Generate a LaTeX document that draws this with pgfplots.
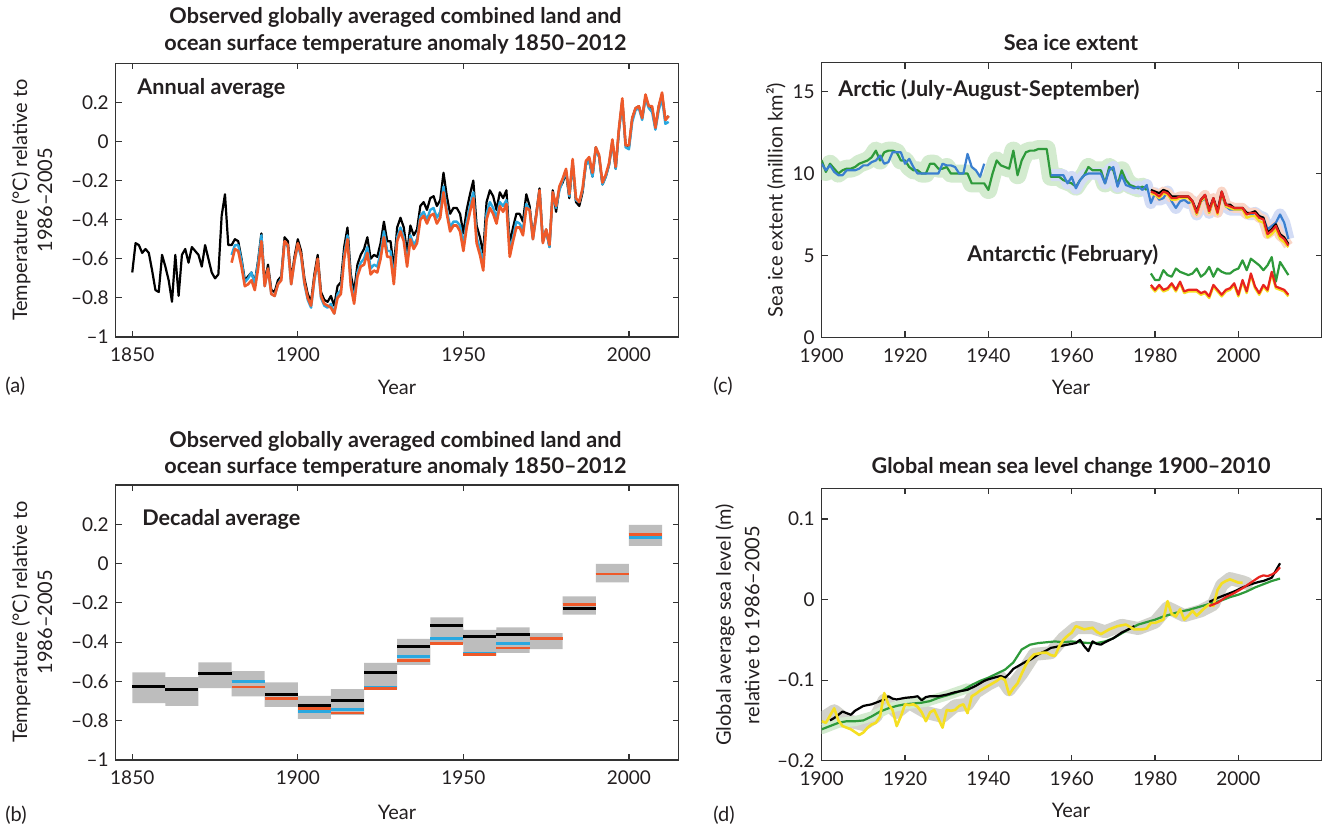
\documentclass[border=0pt]{standalone}
\usepackage{pgfplots}
\pgfplotsset{compat=1.18}
\usepackage{pgfplotstable}
\usepackage{fontspec}
\setmainfont{Lato}

\definecolor{txt}{HTML}{231F20}
\definecolor{orng}{HTML}{EE5A2A}
\definecolor{cyanb}{HTML}{29A8E0}
\definecolor{boxg}{HTML}{BDBDBD}
\definecolor{grn}{HTML}{2E9A3A}
\definecolor{grnband}{HTML}{D3EBCF}
\definecolor{bluel}{HTML}{3A7FD0}
\definecolor{blueband}{HTML}{D3DCF5}
\definecolor{redl}{HTML}{E8231E}
\definecolor{yell}{HTML}{F5DF22}
\definecolor{orband}{HTML}{FAD5C6}
\definecolor{greyband}{HTML}{D2D2CC}

\pgfplotsset{
  panel/.style={
    scale only axis,
    axis line style={black!80, line width=0.6pt},
    every tick/.style={black!80, line width=0.6pt},
    major tick length=3pt,
    tick label style={font=\fontsize{9.5}{11}\selectfont, text=txt},
    xticklabel style={yshift=-2pt},
    clip=true,
  }
}

% ---------- (a) annual temperature anomaly ----------
\pgfplotstableread{
year black blue orange
1850 -0.67 nan nan
1851 -0.52 nan nan
1852 -0.53 nan nan
1853 -0.57 nan nan
1854 -0.55 nan nan
1855 -0.57 nan nan
1856 -0.66 nan nan
1857 -0.76 nan nan
1858 -0.77 nan nan
1859 -0.58 nan nan
1860 -0.64 nan nan
1861 -0.71 nan nan
1862 -0.82 nan nan
1863 -0.58 nan nan
1864 -0.79 nan nan
1865 -0.58 nan nan
1866 -0.55 nan nan
1867 -0.62 nan nan
1868 -0.54 nan nan
1869 -0.56 nan nan
1870 -0.58 nan nan
1871 -0.64 nan nan
1872 -0.53 nan nan
1873 -0.60 nan nan
1874 -0.67 nan nan
1875 -0.70 nan nan
1876 -0.68 nan nan
1877 -0.38 nan nan
1878 -0.27 nan nan
1879 -0.53 nan nan
1880 -0.53 -0.58 -0.62
1881 -0.50 -0.53 -0.55
1882 -0.51 -0.53 -0.56
1883 -0.60 -0.61 -0.64
1884 -0.71 -0.72 -0.74
1885 -0.69 -0.70 -0.73
1886 -0.67 -0.67 -0.71
1887 -0.72 -0.73 -0.76
1888 -0.61 -0.62 -0.65
1889 -0.47 -0.48 -0.51
1890 -0.72 -0.74 -0.74
1891 -0.63 -0.65 -0.65
1892 -0.76 -0.78 -0.78
1893 -0.77 -0.79 -0.79
1894 -0.71 -0.73 -0.73
1895 -0.69 -0.70 -0.71
1896 -0.49 -0.51 -0.51
1897 -0.51 -0.54 -0.53
1898 -0.71 -0.73 -0.73
1899 -0.59 -0.61 -0.61
1900 -0.50 -0.53 -0.52
1901 -0.56 -0.59 -0.58
1902 -0.70 -0.73 -0.72
1903 -0.78 -0.81 -0.80
1904 -0.82 -0.85 -0.84
1905 -0.68 -0.71 -0.70
1906 -0.58 -0.61 -0.60
1907 -0.77 -0.80 -0.79
1908 -0.81 -0.84 -0.83
1909 -0.82 -0.85 -0.84
1910 -0.79 -0.83 -0.85
1911 -0.84 -0.88 -0.88
1912 -0.74 -0.78 -0.80
1913 -0.72 -0.76 -0.78
1914 -0.54 -0.58 -0.60
1915 -0.44 -0.48 -0.50
1916 -0.68 -0.72 -0.74
1917 -0.77 -0.81 -0.83
1918 -0.63 -0.67 -0.69
1919 -0.58 -0.62 -0.64
1920 -0.55 -0.60 -0.63
1921 -0.49 -0.54 -0.57
1922 -0.60 -0.65 -0.68
1923 -0.58 -0.63 -0.66
1924 -0.59 -0.64 -0.67
1925 -0.52 -0.57 -0.60
1926 -0.41 -0.46 -0.49
1927 -0.51 -0.56 -0.59
1928 -0.51 -0.56 -0.59
1929 -0.65 -0.70 -0.73
1930 -0.44 -0.49 -0.51
1931 -0.39 -0.44 -0.46
1932 -0.44 -0.49 -0.51
1933 -0.57 -0.62 -0.64
1934 -0.43 -0.48 -0.50
1935 -0.48 -0.53 -0.55
1936 -0.45 -0.50 -0.52
1937 -0.33 -0.38 -0.40
1938 -0.31 -0.36 -0.38
1939 -0.35 -0.40 -0.42
1940 -0.29 -0.35 -0.38
1941 -0.28 -0.34 -0.37
1942 -0.33 -0.39 -0.42
1943 -0.30 -0.36 -0.39
1944 -0.16 -0.23 -0.26
1945 -0.28 -0.35 -0.37
1946 -0.37 -0.44 -0.46
1947 -0.34 -0.41 -0.43
1948 -0.34 -0.41 -0.43
1949 -0.37 -0.43 -0.46
1950 -0.47 -0.53 -0.56
1951 -0.35 -0.41 -0.44
1952 -0.27 -0.33 -0.36
1953 -0.20 -0.26 -0.29
1954 -0.43 -0.49 -0.52
1955 -0.49 -0.55 -0.58
1956 -0.57 -0.63 -0.66
1957 -0.31 -0.37 -0.40
1958 -0.25 -0.31 -0.34
1959 -0.28 -0.34 -0.37
1960 -0.35 -0.39 -0.42
1961 -0.26 -0.31 -0.33
1962 -0.29 -0.33 -0.36
1963 -0.25 -0.30 -0.32
1964 -0.52 -0.56 -0.59
1965 -0.44 -0.49 -0.51
1966 -0.37 -0.41 -0.44
1967 -0.37 -0.42 -0.44
1968 -0.41 -0.45 -0.48
1969 -0.27 -0.32 -0.34
1970 -0.33 -0.35 -0.35
1971 -0.49 -0.50 -0.50
1972 -0.37 -0.38 -0.38
1973 -0.24 -0.25 -0.25
1974 -0.51 -0.51 -0.52
1975 -0.45 -0.46 -0.45
1976 -0.54 -0.54 -0.53
1977 -0.25 -0.26 -0.26
1978 -0.36 -0.34 -0.33
1979 -0.24 -0.25 -0.23
1980 -0.21 -0.20 -0.19
1981 -0.16 -0.15 -0.14
1982 -0.29 -0.28 -0.27
1983 -0.11 -0.11 -0.09
1984 -0.31 -0.30 -0.29
1985 -0.33 -0.31 -0.31
1986 -0.26 -0.25 -0.24
1987 -0.11 -0.12 -0.10
1988 -0.10 -0.10 -0.08
1989 -0.18 -0.18 -0.16
1990 -0.03 -0.04 -0.03
1991 -0.08 -0.08 -0.07
1992 -0.22 -0.22 -0.21
1993 -0.18 -0.18 -0.17
1994 -0.12 -0.12 -0.11
1995 0.00 0.00 0.01
1996 -0.14 -0.14 -0.13
1997 0.06 0.06 0.07
1998 0.21 0.20 0.22
1999 -0.02 -0.03 -0.02
2000 -0.03 -0.04 -0.02
2001 0.12 0.10 0.12
2002 0.17 0.16 0.17
2003 0.18 0.17 0.18
2004 0.12 0.11 0.12
2005 0.23 0.22 0.24
2006 0.18 0.17 0.18
2007 0.17 0.15 0.18
2008 0.07 0.06 0.07
2009 0.18 0.16 0.18
2010 0.24 0.22 0.25
2011 0.11 0.09 0.11
2012 0.13 0.10 0.13
}\tabA

% ---------- (c) Arctic sea ice ----------
\pgfplotstableread{
year green blue
1900 10.8 10.6
1901 10.1 10.2
1902 10.6 10.5
1903 10.3 10.1
1904 10.0 9.9
1905 10.2 9.9
1906 10.3 10.2
1907 10.3 10.2
1908 10.4 10.2
1909 10.6 10.3
1910 10.7 10.5
1911 10.8 10.5
1912 11.0 10.7
1913 11.4 10.8
1914 10.8 11.1
1915 11.3 10.6
1916 11.4 10.7
1917 11.4 11.3
1918 11.3 11.3
1919 10.8 11.3
1920 10.8 10.6
1921 10.4 10.9
1922 10.2 10.4
1923 10.2 10.0
1924 10.0 10.0
1925 10.0 10.0
1926 10.6 10.0
1927 10.6 10.0
1928 10.3 10.0
1929 10.3 10.6
1930 10.4 10.5
1931 10.0 10.5
1932 10.0 10.4
1933 10.0 10.0
1934 10.0 10.0
1935 10.0 11.2
1936 9.4 10.4
1937 9.4 10.2
1938 9.4 9.8
1939 9.4 10.6
1940 9.0 nan
1941 10.0 nan
1942 10.8 nan
1943 10.5 nan
1944 10.4 nan
1945 10.3 nan
1946 11.4 nan
1947 9.9 nan
1948 10.8 nan
1949 11.3 nan
1950 11.4 nan
1951 11.4 nan
1952 11.5 nan
1953 11.5 nan
1954 11.5 nan
1955 9.8 9.9
1956 9.8 9.9
1957 9.8 9.9
1958 9.6 9.9
1959 9.5 9.4
1960 9.4 9.8
1961 9.2 9.1
1962 9.6 9.6
1963 9.9 9.9
1964 10.4 10.0
1965 10.2 10.0
1966 10.2 10.0
1967 10.2 10.0
1968 9.4 9.4
1969 10.4 10.2
1970 10.2 10.4
1971 9.3 9.2
1972 10.2 9.9
1973 9.6 9.3
1974 9.3 9.2
1975 9.2 9.1
1976 9.1 9.2
1977 9.2 9.0
1978 9.0 9.3
1979 nan 8.2
1980 nan 8.8
1981 nan 8.4
1982 nan 8.5
1983 nan 8.9
1984 nan 8.3
1985 nan 7.9
1986 nan 8.3
1987 nan 8.4
1988 nan 8.2
1989 nan 8.3
1990 nan 7.5
1991 nan 8.3
1992 nan 8.5
1993 nan 7.6
1994 nan 8.4
1995 nan 7.7
1996 nan 8.7
1997 nan 8.0
1998 nan 7.8
1999 nan 7.8
2000 nan 7.8
2001 nan 7.8
2002 nan 7.6
2003 nan 7.5
2004 nan 7.6
2005 nan 7.4
2006 nan 7.3
2007 nan 6.6
2008 nan 6.8
2009 nan 7.0
2010 nan 7.5
2011 nan 7.0
2012 nan 6.0
}\tabArc

\pgfplotstableread{
year red black yellow agreen ared ayellow
1979 8.9 9.0 8.8 3.9 3.2 3.1
1980 8.8 8.9 8.7 3.5 2.9 2.8
1981 8.6 8.8 8.5 3.5 3.2 3.1
1982 8.9 9.0 8.8 4.1 2.9 2.8
1983 8.8 8.9 8.7 3.8 3.0 2.9
1984 8.5 8.6 8.4 3.7 3.3 3.2
1985 8.5 8.6 8.4 4.2 2.9 2.8
1986 8.6 8.6 8.5 4.0 3.4 3.3
1987 8.6 8.6 8.5 3.9 2.8 2.7
1988 8.6 8.6 8.5 3.8 2.9 2.8
1989 8.3 8.3 8.2 3.9 2.9 2.8
1990 7.6 7.7 7.5 4.2 2.9 2.8
1991 8.4 8.4 8.3 3.7 2.7 2.6
1992 8.7 8.7 8.6 3.9 2.8 2.7
1993 7.7 7.8 7.6 4.3 2.5 2.4
1994 8.5 8.5 8.4 3.7 3.2 3.1
1995 7.6 7.7 7.5 4.2 2.9 2.8
1996 8.9 8.9 8.8 4.0 2.6 2.5
1997 8.1 8.1 8.0 3.9 2.9 2.8
1998 8.0 8.1 7.9 3.9 3.0 2.9
1999 7.9 7.9 7.8 4.1 3.3 3.2
2000 7.9 7.9 7.8 4.2 2.6 2.5
2001 7.9 7.9 7.8 4.7 3.5 3.4
2002 7.5 7.6 7.3 4.1 2.8 2.7
2003 7.6 7.6 7.4 4.8 3.9 3.8
2004 7.6 7.7 7.4 4.6 3.1 3.0
2005 7.3 7.4 7.1 4.4 2.7 2.6
2006 7.2 7.3 7.0 4.1 3.2 3.1
2007 6.3 6.4 6.1 4.4 2.9 2.8
2008 6.5 6.6 6.3 4.9 4.0 3.9
2009 6.8 6.9 6.6 3.4 3.1 3.0
2010 6.2 6.3 6.0 4.6 3.0 2.9
2011 6.0 6.1 5.8 4.2 2.9 2.8
2012 5.6 5.7 5.5 3.8 2.6 2.5
}\tabSat

\begin{document}
\begin{tikzpicture}
\useasboundingbox (0,0) rectangle (663pt,-413pt);
\fill[white] (0,0) rectangle (663pt,-413pt);

% ================= (a) =================
\begin{axis}[panel, at={(57.85pt,-168.5pt)}, anchor=south west,
  width=281.45pt, height=136.9pt,
  xmin=1845, xmax=2015, ymin=-1, ymax=0.4,
  xtick={1850,1900,1950,2000}, xticklabels={1850,1900,1950,2000},
  ytick={-1,-0.8,-0.6,-0.4,-0.2,0,0.2},
  yticklabels={–1,–0.8,–0.6,–0.4,–0.2,0,0.2}]
\addplot[black, line width=1.1pt, line join=round] table[x=year,y=black]{\tabA};
\addplot[cyanb, line width=1.2pt, line join=round] table[x=year,y=blue]{\tabA};
\addplot[orng, line width=1.3pt, line join=round] table[x=year,y=orange]{\tabA};
\end{axis}

% ================= (b) =================
\begin{axis}[panel, at={(57.85pt,-380pt)}, anchor=south west,
  width=281.45pt, height=137.5pt,
  xmin=1845, xmax=2015, ymin=-1, ymax=0.4,
  xtick={1850,1900,1950,2000}, xticklabels={1850,1900,1950,2000},
  ytick={-1,-0.8,-0.6,-0.4,-0.2,0,0.2},
  yticklabels={–1,–0.8,–0.6,–0.4,–0.2,0,0.2},
  unbounded coords=jump]
\addplot[draw=none, fill=boxg] coordinates {
(1850,-0.710)(1860,-0.710)(1860,-0.554)(1850,-0.554)(1850,nan)
(1860,-0.724)(1870,-0.724)(1870,-0.578)(1860,-0.578)(1860,nan)
(1870,-0.634)(1880,-0.634)(1880,-0.503)(1870,-0.503)(1870,nan)
(1880,-0.676)(1890,-0.676)(1890,-0.547)(1880,-0.547)(1880,nan)
(1890,-0.730)(1900,-0.730)(1900,-0.605)(1890,-0.605)(1890,nan)
(1900,-0.790)(1910,-0.790)(1910,-0.673)(1900,-0.673)(1900,nan)
(1910,-0.770)(1920,-0.770)(1920,-0.639)(1910,-0.639)(1910,nan)
(1920,-0.639)(1930,-0.639)(1930,-0.506)(1920,-0.506)(1920,nan)
(1930,-0.515)(1940,-0.515)(1940,-0.383)(1930,-0.383)(1930,nan)
(1940,-0.408)(1950,-0.408)(1950,-0.274)(1940,-0.274)(1940,nan)
(1950,-0.469)(1960,-0.469)(1960,-0.337)(1950,-0.337)(1950,nan)
(1960,-0.455)(1970,-0.455)(1970,-0.325)(1960,-0.325)(1960,nan)
(1970,-0.435)(1980,-0.435)(1980,-0.354)(1970,-0.354)(1970,nan)
(1980,-0.260)(1990,-0.260)(1990,-0.167)(1980,-0.167)(1980,nan)
(1990,-0.096)(2000,-0.096)(2000,-0.001)(1990,-0.001)(1990,nan)
(2000,0.090)(2010,0.090)(2010,0.197)(2000,0.197)
};
\addplot[black, line width=1.4pt] coordinates {
(1850,-0.625)(1860,-0.625)(1860,nan)
(1860,-0.639)(1870,-0.639)(1870,nan)
(1870,-0.559)(1880,-0.559)(1880,nan)
(1880,-0.600)(1890,-0.600)(1890,nan)
(1890,-0.667)(1900,-0.667)(1900,nan)
(1900,-0.724)(1910,-0.724)(1910,nan)
(1910,-0.698)(1920,-0.698)(1920,nan)
(1920,-0.554)(1930,-0.554)(1930,nan)
(1930,-0.422)(1940,-0.422)(1940,nan)
(1940,-0.315)(1950,-0.315)(1950,nan)
(1950,-0.373)(1960,-0.373)(1960,nan)
(1960,-0.359)(1970,-0.359)(1970,nan)
(1970,-0.383)(1980,-0.383)(1980,nan)
(1980,-0.227)(1990,-0.227)(1990,nan)
(1990,-0.053)(2000,-0.053)(2000,nan)
(2000,0.148)(2010,0.148)
};
\addplot[cyanb, line width=1.4pt] coordinates {
(1880,-0.601)(1890,-0.601)(1890,nan)
(1890,-0.686)(1900,-0.686)(1900,nan)
(1900,-0.751)(1910,-0.751)(1910,nan)
(1910,-0.741)(1920,-0.741)(1920,nan)
(1920,-0.630)(1930,-0.630)(1930,nan)
(1930,-0.474)(1940,-0.474)(1940,nan)
(1940,-0.381)(1950,-0.381)(1950,nan)
(1950,-0.455)(1960,-0.455)(1960,nan)
(1960,-0.405)(1970,-0.405)(1970,nan)
(1970,-0.383)(1980,-0.383)(1980,nan)
(1980,-0.208)(1990,-0.208)(1990,nan)
(1990,-0.053)(2000,-0.053)(2000,nan)
(2000,0.133)(2010,0.133)
};
\addplot[orng, line width=1.4pt] coordinates {
(1880,-0.628)(1890,-0.628)(1890,nan)
(1890,-0.686)(1900,-0.686)(1900,nan)
(1900,-0.736)(1910,-0.736)(1910,nan)
(1910,-0.761)(1920,-0.761)(1920,nan)
(1920,-0.637)(1930,-0.637)(1930,nan)
(1930,-0.495)(1940,-0.495)(1940,nan)
(1940,-0.405)(1950,-0.405)(1950,nan)
(1950,-0.461)(1960,-0.461)(1960,nan)
(1960,-0.430)(1970,-0.430)(1970,nan)
(1970,-0.383)(1980,-0.383)(1980,nan)
(1980,-0.208)(1990,-0.208)(1990,nan)
(1990,-0.053)(2000,-0.053)(2000,nan)
(2000,0.148)(2010,0.148)
};
\end{axis}

% ================= (c) =================
\begin{axis}[panel, at={(410.85pt,-168.65pt)}, anchor=south west,
  width=250pt, height=137.3pt,
  xmin=1900, xmax=2020, ymin=0, ymax=16.77,
  xtick={1900,1920,1940,1960,1980,2000},
  xticklabels={1900,1920,1940,1960,1980,2000},
  ytick={0,5,10,15}, yticklabels={0,5,10,15},
  unbounded coords=jump]
\addplot[grnband, line width=9pt, line join=round] table[x=year,y=green]{\tabArc};
\addplot[blueband, line width=6pt, line join=round, restrict x to domain=1955:2012] table[x=year,y=blue]{\tabArc};
\addplot[orband, line width=5pt, line join=round] table[x=year,y=red]{\tabSat};
\addplot[grn, line width=1.1pt, line join=round] table[x=year,y=green]{\tabArc};
\addplot[bluel, line width=1.1pt, line join=round] table[x=year,y=blue]{\tabArc};
\addplot[yell, line width=1.1pt, line join=round] table[x=year,y=yellow]{\tabSat};
\addplot[black, line width=1.1pt, line join=round] table[x=year,y=black]{\tabSat};
\addplot[redl, line width=1.1pt, line join=round] table[x=year,y=red]{\tabSat};
\addplot[grn, line width=1.1pt, line join=round] table[x=year,y=agreen]{\tabSat};
\addplot[yell, line width=1.2pt, line join=round] table[x=year,y=ayellow]{\tabSat};
\addplot[redl, line width=1.1pt, line join=round] table[x=year,y=ared]{\tabSat};
\end{axis}

% ================= (d) =================
\begin{axis}[panel, at={(410.85pt,-380.35pt)}, anchor=south west,
  width=250pt, height=136.2pt,
  xmin=1900, xmax=2020, ymin=-0.2, ymax=0.138,
  xtick={1900,1920,1940,1960,1980,2000},
  xticklabels={1900,1920,1940,1960,1980,2000},
  ytick={-0.2,-0.1,0,0.1}, yticklabels={–0.2,–0.1,0,0.1},
  unbounded coords=jump]
% grey uncertainty band (yellow series)
\addplot[greyband, line width=6.5pt, line join=round, line cap=round] coordinates {
(1900,-0.148)(1903,-0.138)(1906,-0.150)(1910,-0.155)(1913,-0.145)(1915,-0.125)(1918,-0.140)
(1921,-0.128)(1925,-0.140)(1929,-0.145)(1932,-0.132)(1935,-0.130)(1937,-0.115)(1940,-0.105)
(1943,-0.097)(1945,-0.112)(1948,-0.092)(1951,-0.068)(1955,-0.066)(1958,-0.048)(1961,-0.035)
(1965,-0.035)(1968,-0.040)(1972,-0.032)(1976,-0.036)(1980,-0.028)(1983,-0.010)(1987,-0.020)
(1991,-0.014)(1994,-0.006)(1996,0.018)(1998,0.026)(2001,0.022)(2002,0.020)
};
% light green band
\addplot[grnband, line width=5pt, line join=round, line cap=round] coordinates {
(1900,-0.161)(1904,-0.153)(1908,-0.151)(1912,-0.145)(1916,-0.135)(1920,-0.130)(1925,-0.127)
(1930,-0.119)(1935,-0.110)
};
\addplot[grn, line width=1.1pt, line join=round] coordinates {
(1900,-0.161)(1902,-0.157)(1904,-0.153)(1906,-0.151)(1908,-0.151)(1910,-0.150)(1912,-0.145)
(1914,-0.139)(1916,-0.135)(1918,-0.132)(1920,-0.130)(1922,-0.129)(1924,-0.128)(1926,-0.126)
(1928,-0.122)(1930,-0.119)(1932,-0.116)(1934,-0.112)(1936,-0.106)(1938,-0.101)(1940,-0.097)
(1942,-0.092)(1944,-0.087)(1946,-0.078)(1948,-0.062)(1950,-0.056)(1952,-0.054)(1954,-0.053)
(1956,-0.052)(1958,-0.053)(1960,-0.052)(1962,-0.053)(1964,-0.054)(1966,-0.054)(1968,-0.052)
(1970,-0.048)(1972,-0.042)(1974,-0.036)(1976,-0.031)(1978,-0.028)(1980,-0.025)(1982,-0.021)
(1984,-0.018)(1986,-0.015)(1988,-0.013)(1990,-0.010)(1992,-0.007)(1994,-0.004)(1996,-0.001)
(1998,0.003)(2000,0.006)(2002,0.010)(2004,0.015)(2006,0.019)(2008,0.023)(2010,0.026)
};
\addplot[black, line width=1.1pt, line join=round] coordinates {
(1902,-0.150)(1903,-0.147)(1904,-0.143)(1905,-0.139)(1906,-0.141)(1907,-0.143)(1908,-0.138)
(1910,-0.132)(1912,-0.130)(1913,-0.128)(1915,-0.124)(1916,-0.120)(1917,-0.123)(1918,-0.124)
(1920,-0.122)(1922,-0.121)(1923,-0.120)(1924,-0.125)(1925,-0.121)(1926,-0.120)(1928,-0.120)
(1930,-0.118)(1932,-0.115)(1935,-0.112)(1937,-0.107)(1939,-0.101)(1940,-0.099)(1942,-0.096)
(1943,-0.095)(1944,-0.097)(1945,-0.092)(1946,-0.086)(1947,-0.083)(1949,-0.077)(1950,-0.075)
(1952,-0.068)(1954,-0.063)(1955,-0.060)(1957,-0.058)(1958,-0.057)(1960,-0.055)(1961,-0.054)
(1962,-0.050)(1963,-0.058)(1964,-0.064)(1965,-0.052)(1966,-0.055)(1967,-0.056)(1968,-0.053)
(1970,-0.048)(1972,-0.041)(1974,-0.036)(1975,-0.033)(1975,nan)
(1993,-0.003)(1995,0.002)(1997,0.006)(1999,0.010)(2001,0.015)(2003,0.019)(2005,0.022)
(2006,0.023)(2007,0.025)(2008,0.027)(2009,0.036)(2010,0.045)
};
\addplot[yell, line width=1.3pt, line join=round] coordinates {
(1900,-0.151)(1901,-0.153)(1903,-0.135)(1904,-0.150)(1905,-0.157)(1907,-0.161)(1909,-0.168)
(1910,-0.165)(1911,-0.159)(1912,-0.155)(1913,-0.153)(1914,-0.145)(1915,-0.116)(1916,-0.130)
(1917,-0.137)(1918,-0.157)(1919,-0.145)(1920,-0.130)(1921,-0.131)(1922,-0.130)(1923,-0.133)
(1924,-0.140)(1925,-0.151)(1926,-0.140)(1927,-0.137)(1928,-0.148)(1929,-0.159)(1930,-0.137)
(1931,-0.138)(1932,-0.137)(1933,-0.132)(1934,-0.130)(1935,-0.141)(1936,-0.120)(1937,-0.117)
(1938,-0.113)(1939,-0.110)(1940,-0.107)(1941,-0.104)(1942,-0.101)(1943,-0.097)(1944,-0.100)
(1945,-0.118)(1946,-0.110)(1947,-0.104)(1948,-0.092)(1949,-0.081)(1950,-0.073)(1951,-0.068)
(1952,-0.067)(1953,-0.066)(1954,-0.066)(1955,-0.069)(1956,-0.070)(1957,-0.058)(1958,-0.050)
(1959,-0.045)(1960,-0.041)(1961,-0.033)(1962,-0.035)(1963,-0.037)(1964,-0.036)(1965,-0.035)
(1966,-0.040)(1967,-0.043)(1968,-0.040)(1969,-0.037)(1970,-0.035)(1971,-0.033)(1972,-0.032)
(1973,-0.031)(1974,-0.034)(1975,-0.037)(1976,-0.037)(1977,-0.037)(1978,-0.036)(1979,-0.029)
(1980,-0.029)(1981,-0.027)(1982,-0.025)(1983,-0.002)(1984,-0.018)(1985,-0.021)(1986,-0.012)
(1987,-0.025)(1988,-0.020)(1989,-0.014)(1990,-0.020)(1991,-0.015)(1992,-0.010)(1993,-0.006)
(1994,-0.008)(1995,0.012)(1996,0.020)(1997,0.023)(1998,0.025)(1999,0.023)(2000,0.021)(2001,0.021)
};
\addplot[redl, line width=1.1pt, line join=round] coordinates {
(1993,-0.008)(1995,-0.004)(1997,0.003)(1999,0.008)(2001,0.014)(2003,0.021)(2005,0.028)
(2006,0.030)(2007,0.029)(2008,0.031)(2009,0.034)(2010,0.040)
};
\end{axis}

% ================= texts =================
\begin{scope}[every node/.style={text=txt, inner sep=0pt}]
\node[anchor=base, font=\bfseries\fontsize{10.8}{13}\selectfont] at (197.75pt,-11.75pt) {Observed globally averaged combined land and};
\node[anchor=base, font=\bfseries\fontsize{10.8}{13}\selectfont] at (197.75pt,-25.25pt) {ocean surface temperature anomaly 1850–2012};
\node[anchor=base, font=\bfseries\fontsize{10.8}{13}\selectfont] at (197.75pt,-223.75pt) {Observed globally averaged combined land and};
\node[anchor=base, font=\bfseries\fontsize{10.8}{13}\selectfont] at (197.75pt,-236.75pt) {ocean surface temperature anomaly 1850–2012};
\node[anchor=base, font=\bfseries\fontsize{10.8}{13}\selectfont] at (535.5pt,-25.25pt) {Sea ice extent};
\node[anchor=base, font=\bfseries\fontsize{10.8}{13}\selectfont] at (535.5pt,-236.75pt) {Global mean sea level change 1900–2010};

\node[anchor=base west, font=\bfseries\fontsize{10.8}{13}\selectfont] at (68.5pt,-47.25pt) {Annual average};
\node[anchor=base west, font=\bfseries\fontsize{10.8}{13}\selectfont] at (71pt,-262.75pt) {Decadal average};
\node[anchor=base west, font=\bfseries\fontsize{10.8}{13}\selectfont] at (419pt,-48pt) {Arctic (July-August-September)};
\node[anchor=base west, font=\bfseries\fontsize{10.8}{13}\selectfont] at (483.5pt,-130.5pt) {Antarctic (February)};

\node[anchor=base, font=\fontsize{10}{12}\selectfont] at (198.5pt,-197.25pt) {Year};
\node[anchor=base, font=\fontsize{10}{12}\selectfont] at (535.5pt,-197.25pt) {Year};
\node[anchor=base, font=\fontsize{10}{12}\selectfont] at (198.5pt,-409.5pt) {Year};
\node[anchor=base, font=\fontsize{10}{12}\selectfont] at (535.5pt,-408.5pt) {Year};

\node[anchor=west, font=\fontsize{10}{12}\selectfont] at (2.5pt,-193pt) {(a)};
\node[anchor=west, font=\fontsize{10}{12}\selectfont] at (2.5pt,-407.5pt) {(b)};
\node[anchor=west, font=\fontsize{10}{12}\selectfont] at (356.5pt,-193pt) {(c)};
\node[anchor=west, font=\fontsize{10}{12}\selectfont] at (356.5pt,-407.5pt) {(d)};

\node[rotate=90, font=\fontsize{10}{12}\selectfont] at (10.5pt,-100pt) {Temperature (°C) relative to};
\node[rotate=90, font=\fontsize{10}{12}\selectfont] at (22.5pt,-100pt) {1986–2005};
\node[rotate=90, font=\fontsize{10}{12}\selectfont] at (10.5pt,-311pt) {Temperature (°C) relative to};
\node[rotate=90, font=\fontsize{10}{12}\selectfont] at (22.5pt,-311pt) {1986–2005};
\node[rotate=90, font=\fontsize{10}{12}\selectfont] at (388pt,-100pt) {Sea ice extent (million km²)};
\node[rotate=90, font=\fontsize{10}{12}\selectfont] at (362.5pt,-312.5pt) {Global average sea level (m)};
\node[rotate=90, font=\fontsize{10}{12}\selectfont] at (376pt,-312.5pt) {relative to 1986–2005};
\end{scope}
\end{tikzpicture}
\end{document}
